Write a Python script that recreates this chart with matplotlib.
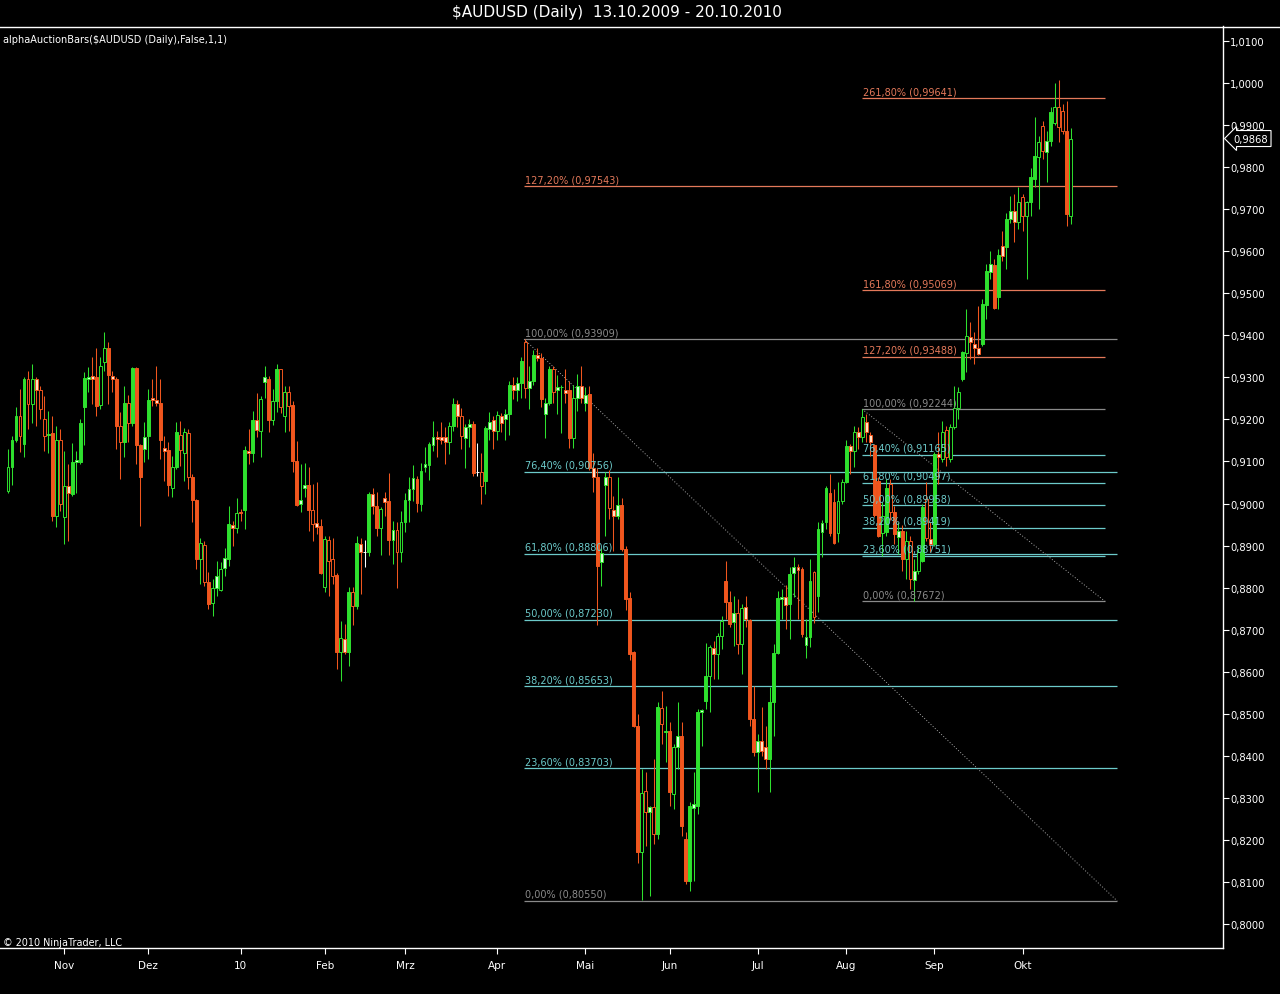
"""
AUDUSD daily candles (NinjaTrader look) with two Fibonacci retracement drawings.
"""

import numpy as np
import pandas as pd
import matplotlib
matplotlib.use("Agg")
import matplotlib.pyplot as plt
from matplotlib.lines import Line2D
from matplotlib.ticker import FuncFormatter
from matplotlib.transforms import blended_transform_factory

# ── Data ──────────────────────────────────────────────────────────────────
dates = pd.bdate_range("2009-10-13", "2010-10-19")

opens = [
    0.9030, 0.9088, 0.9150, 0.9207, 0.9142, 0.9295, 0.9237, 0.9295, 0.9270, 0.9202,
    0.9163, 0.9168, 0.8971, 0.9151, 0.8967, 0.9041, 0.9023, 0.9098, 0.9099, 0.9229,
    0.9296, 0.9304, 0.9300, 0.9234, 0.9337, 0.9370, 0.9304, 0.9296, 0.9185, 0.9147,
    0.9239, 0.9191, 0.9322, 0.9138, 0.9130, 0.9160, 0.9250, 0.9247, 0.9240, 0.9132,
    0.9128, 0.9038, 0.9086, 0.9164, 0.9119, 0.9167, 0.9062, 0.9008, 0.8868, 0.8901,
    0.8814, 0.8763, 0.8798, 0.8795, 0.8846, 0.8868, 0.8949, 0.8942, 0.8980, 0.8985,
    0.9126, 0.9119, 0.9198, 0.9173, 0.9290, 0.9296, 0.9198, 0.9244, 0.9320, 0.9209,
    0.9266, 0.9234, 0.9102, 0.8999, 0.9036, 0.9044, 0.8985, 0.8953, 0.8946, 0.8801,
    0.8914, 0.8868, 0.8829, 0.8646, 0.8678, 0.8647, 0.8789, 0.8756, 0.8904, 0.8885,
    0.8885, 0.9023, 0.8995, 0.8941, 0.9012, 0.9007, 0.8914, 0.8937, 0.8884, 0.8957,
    0.9008, 0.9034, 0.9058, 0.9000, 0.9088, 0.9092, 0.9139, 0.9157, 0.9157, 0.9157,
    0.9147, 0.9185, 0.9237, 0.9207, 0.9155, 0.9181, 0.9189, 0.9074, 0.9076, 0.9054,
    0.9177, 0.9199, 0.9173, 0.9207, 0.9201, 0.9213, 0.9281, 0.9270, 0.9287, 0.9384,
    0.9274, 0.9292, 0.9353, 0.9346, 0.9214, 0.9239, 0.9320, 0.9270, 0.9276, 0.9270,
    0.9270, 0.9155, 0.9252, 0.9279, 0.9239, 0.9261, 0.9085, 0.9063, 0.8861, 0.9045,
    0.9063, 0.8985, 0.8970, 0.8997, 0.8891, 0.8776, 0.8646, 0.8471, 0.8172, 0.8316,
    0.8266, 0.8278, 0.8215, 0.8513, 0.8456, 0.8460, 0.8310, 0.8421, 0.8448, 0.8202,
    0.8103, 0.8275, 0.8280, 0.8505, 0.8530, 0.8589, 0.8656, 0.8642, 0.8686, 0.8816,
    0.8765, 0.8718, 0.8740, 0.8666, 0.8753, 0.8722, 0.8488, 0.8408, 0.8436, 0.8420,
    0.8392, 0.8527, 0.8645, 0.8774, 0.8777, 0.8761, 0.8834, 0.8848, 0.8845, 0.8664,
    0.8682, 0.8838, 0.8781, 0.8933, 0.8956, 0.9026, 0.9003, 0.8930, 0.9005, 0.9052,
    0.9136, 0.9126, 0.9170, 0.9158, 0.9193, 0.9162, 0.9138, 0.9054, 0.8930, 0.8932,
    0.9046, 0.8979, 0.8920, 0.8935, 0.8868, 0.8912, 0.8817, 0.8840, 0.8864, 0.9011,
    0.8915, 0.8904, 0.9118, 0.9106, 0.9174, 0.9106, 0.9181, 0.9228, 0.9296, 0.9358,
    0.9395, 0.9379, 0.9369, 0.9379, 0.9471, 0.9551, 0.9567, 0.9490, 0.9613, 0.9609,
    0.9676, 0.9696, 0.9670, 0.9728, 0.9684, 0.9718, 0.9772, 0.9825, 0.9897, 0.9837,
    0.9863, 0.9906, 0.9942, 0.9933, 0.9887, 0.9684,
]
highs = [
    0.9130, 0.9160, 0.9229, 0.9272, 0.9300, 0.9316, 0.9332, 0.9300, 0.9280, 0.9256,
    0.9221, 0.9207, 0.9185, 0.9177, 0.9125, 0.9094, 0.9145, 0.9125, 0.9200, 0.9312,
    0.9324, 0.9348, 0.9371, 0.9348, 0.9407, 0.9383, 0.9316, 0.9300, 0.9217, 0.9279,
    0.9259, 0.9325, 0.9325, 0.9142, 0.9193, 0.9272, 0.9296, 0.9328, 0.9296, 0.9161,
    0.9146, 0.9114, 0.9193, 0.9197, 0.9179, 0.9177, 0.9070, 0.9010, 0.8917, 0.8911,
    0.8836, 0.8820, 0.8864, 0.8860, 0.8893, 0.8995, 0.8959, 0.9013, 0.8986, 0.9137,
    0.9177, 0.9221, 0.9262, 0.9256, 0.9326, 0.9304, 0.9272, 0.9332, 0.9321, 0.9280,
    0.9280, 0.9244, 0.9149, 0.9094, 0.9096, 0.9086, 0.9046, 0.9050, 0.8963, 0.8923,
    0.8923, 0.8919, 0.8835, 0.8721, 0.8713, 0.8801, 0.8801, 0.8923, 0.8917, 0.8914,
    0.9027, 0.9038, 0.9027, 0.8992, 0.9027, 0.9073, 0.8959, 0.8957, 0.8983, 0.9025,
    0.9062, 0.9092, 0.9066, 0.9096, 0.9134, 0.9147, 0.9197, 0.9173, 0.9194, 0.9181,
    0.9193, 0.9252, 0.9247, 0.9226, 0.9189, 0.9201, 0.9197, 0.9144, 0.9120, 0.9184,
    0.9217, 0.9207, 0.9221, 0.9216, 0.9225, 0.9292, 0.9301, 0.9301, 0.9349, 0.9391,
    0.9327, 0.9364, 0.9370, 0.9358, 0.9252, 0.9327, 0.9327, 0.9305, 0.9283, 0.9320,
    0.9292, 0.9283, 0.9309, 0.9327, 0.9276, 0.9279, 0.9119, 0.9085, 0.8895, 0.9076,
    0.9080, 0.9019, 0.9063, 0.9014, 0.8899, 0.8790, 0.8649, 0.8499, 0.8369, 0.8361,
    0.8281, 0.8392, 0.8529, 0.8555, 0.8519, 0.8480, 0.8428, 0.8527, 0.8481, 0.8218,
    0.8289, 0.8361, 0.8511, 0.8511, 0.8668, 0.8664, 0.8673, 0.8692, 0.8732, 0.8864,
    0.8793, 0.8781, 0.8773, 0.8761, 0.8781, 0.8726, 0.8567, 0.8452, 0.8515, 0.8472,
    0.8563, 0.8666, 0.8793, 0.8797, 0.8805, 0.8848, 0.8872, 0.8856, 0.8849, 0.8725,
    0.8868, 0.8840, 0.8955, 0.8960, 0.9042, 0.9070, 0.9034, 0.9050, 0.9058, 0.9150,
    0.9142, 0.9185, 0.9181, 0.9225, 0.9213, 0.9170, 0.9142, 0.9062, 0.9003, 0.9058,
    0.9058, 0.8995, 0.8955, 0.8950, 0.8935, 0.8923, 0.8868, 0.8900, 0.8999, 0.9050,
    0.8955, 0.9122, 0.9170, 0.9197, 0.9185, 0.9189, 0.9280, 0.9276, 0.9363, 0.9463,
    0.9431, 0.9407, 0.9470, 0.9486, 0.9569, 0.9601, 0.9581, 0.9605, 0.9649, 0.9692,
    0.9732, 0.9736, 0.9752, 0.9736, 0.9720, 0.9797, 0.9918, 0.9875, 0.9909, 0.9887,
    0.9942, 1.0000, 1.0006, 0.9950, 0.9958, 0.9892,
]
lows = [
    0.9025, 0.9045, 0.9146, 0.9122, 0.9111, 0.9177, 0.9191, 0.9185, 0.9200, 0.9125,
    0.9120, 0.8959, 0.8943, 0.8983, 0.8904, 0.8912, 0.9019, 0.9024, 0.9095, 0.9138,
    0.9264, 0.9237, 0.9209, 0.9225, 0.9316, 0.9237, 0.9264, 0.9130, 0.9058, 0.9111,
    0.9147, 0.9185, 0.9094, 0.8947, 0.9098, 0.9106, 0.9233, 0.9233, 0.9106, 0.9054,
    0.9019, 0.9015, 0.9082, 0.9090, 0.9054, 0.9034, 0.8955, 0.8844, 0.8808, 0.8804,
    0.8749, 0.8733, 0.8780, 0.8792, 0.8827, 0.8852, 0.8900, 0.8931, 0.8959, 0.8939,
    0.9094, 0.9098, 0.9157, 0.9110, 0.9250, 0.9169, 0.9186, 0.9217, 0.9215, 0.9171,
    0.9173, 0.9074, 0.8995, 0.8979, 0.9015, 0.8935, 0.8912, 0.8927, 0.8833, 0.8789,
    0.8781, 0.8809, 0.8606, 0.8579, 0.8642, 0.8614, 0.8710, 0.8750, 0.8785, 0.8848,
    0.8876, 0.8975, 0.8923, 0.8877, 0.8971, 0.8877, 0.8856, 0.8800, 0.8862, 0.8933,
    0.8955, 0.9007, 0.8979, 0.8983, 0.9076, 0.9057, 0.9126, 0.9110, 0.9142, 0.9094,
    0.9118, 0.9173, 0.9181, 0.9130, 0.9084, 0.9134, 0.9066, 0.9065, 0.8999, 0.9023,
    0.9150, 0.9130, 0.9150, 0.9171, 0.9151, 0.9164, 0.9248, 0.9243, 0.9252, 0.9252,
    0.9225, 0.9283, 0.9340, 0.9230, 0.9155, 0.9234, 0.9239, 0.9212, 0.9168, 0.9240,
    0.9133, 0.9133, 0.9221, 0.9239, 0.9221, 0.9080, 0.9028, 0.8710, 0.8803, 0.8922,
    0.8962, 0.8887, 0.8962, 0.8887, 0.8746, 0.8627, 0.8468, 0.8146, 0.8056, 0.8186,
    0.8067, 0.8191, 0.8203, 0.8428, 0.8385, 0.8281, 0.8274, 0.8368, 0.8210, 0.8095,
    0.8079, 0.8103, 0.8262, 0.8424, 0.8511, 0.8505, 0.8583, 0.8583, 0.8654, 0.8725,
    0.8706, 0.8662, 0.8642, 0.8595, 0.8706, 0.8472, 0.8400, 0.8313, 0.8400, 0.8368,
    0.8313, 0.8448, 0.8642, 0.8726, 0.8702, 0.8678, 0.8777, 0.8726, 0.8682, 0.8633,
    0.8658, 0.8717, 0.8741, 0.8872, 0.8939, 0.8923, 0.8904, 0.8908, 0.8999, 0.9049,
    0.9071, 0.9087, 0.9130, 0.9146, 0.9146, 0.9114, 0.8967, 0.8920, 0.8875, 0.8923,
    0.8960, 0.8904, 0.8880, 0.8840, 0.8820, 0.8797, 0.8767, 0.8832, 0.8860, 0.8911,
    0.8884, 0.8900, 0.9046, 0.9098, 0.9090, 0.9098, 0.9177, 0.9201, 0.9292, 0.9312,
    0.9344, 0.9332, 0.9352, 0.9375, 0.9439, 0.9533, 0.9462, 0.9462, 0.9577, 0.9557,
    0.9668, 0.9621, 0.9652, 0.9648, 0.9534, 0.9684, 0.9752, 0.9700, 0.9819, 0.9764,
    0.9851, 0.9899, 0.9859, 0.9879, 0.9660, 0.9664,
]
closes = [
    0.9086, 0.9150, 0.9207, 0.9161, 0.9295, 0.9237, 0.9295, 0.9270, 0.9225, 0.9161,
    0.9165, 0.8971, 0.9151, 0.9000, 0.9042, 0.9024, 0.9098, 0.9103, 0.9191, 0.9298,
    0.9302, 0.9296, 0.9233, 0.9326, 0.9371, 0.9306, 0.9296, 0.9185, 0.9146, 0.9239,
    0.9191, 0.9322, 0.9138, 0.9062, 0.9159, 0.9247, 0.9247, 0.9239, 0.9150, 0.9126,
    0.9045, 0.9086, 0.9169, 0.9127, 0.9169, 0.9062, 0.9008, 0.8868, 0.8906, 0.8814,
    0.8761, 0.8798, 0.8828, 0.8844, 0.8870, 0.8951, 0.8942, 0.8977, 0.8977, 0.9127,
    0.9119, 0.9198, 0.9175, 0.9248, 0.9300, 0.9198, 0.9244, 0.9320, 0.9229, 0.9266,
    0.9231, 0.9102, 0.8997, 0.9008, 0.9044, 0.8985, 0.8951, 0.8943, 0.8835, 0.8915,
    0.8864, 0.8828, 0.8646, 0.8679, 0.8647, 0.8789, 0.8756, 0.8906, 0.8885, 0.8885,
    0.9023, 0.8995, 0.8941, 0.8987, 0.9004, 0.8914, 0.8937, 0.8884, 0.8957, 0.9008,
    0.9034, 0.9060, 0.9001, 0.9077, 0.9094, 0.9142, 0.9157, 0.9153, 0.9152, 0.9147,
    0.9185, 0.9237, 0.9207, 0.9160, 0.9183, 0.9189, 0.9073, 0.9074, 0.9041, 0.9179,
    0.9195, 0.9173, 0.9211, 0.9192, 0.9213, 0.9283, 0.9270, 0.9287, 0.9340, 0.9274,
    0.9292, 0.9353, 0.9346, 0.9249, 0.9239, 0.9320, 0.9265, 0.9276, 0.9277, 0.9262,
    0.9155, 0.9252, 0.9279, 0.9252, 0.9258, 0.9085, 0.9063, 0.8851, 0.8882, 0.9063,
    0.8989, 0.8970, 0.8997, 0.8891, 0.8774, 0.8642, 0.8472, 0.8172, 0.8312, 0.8266,
    0.8278, 0.8215, 0.8515, 0.8476, 0.8460, 0.8313, 0.8421, 0.8447, 0.8232, 0.8103,
    0.8281, 0.8285, 0.8505, 0.8509, 0.8589, 0.8658, 0.8642, 0.8686, 0.8721, 0.8765,
    0.8714, 0.8740, 0.8666, 0.8751, 0.8726, 0.8488, 0.8408, 0.8436, 0.8412, 0.8392,
    0.8527, 0.8645, 0.8775, 0.8777, 0.8759, 0.8832, 0.8848, 0.8843, 0.8690, 0.8682,
    0.8816, 0.8729, 0.8939, 0.8954, 0.9038, 0.8930, 0.8906, 0.9007, 0.9052, 0.9136,
    0.9126, 0.9170, 0.9158, 0.9205, 0.9170, 0.9146, 0.8973, 0.8923, 0.8971, 0.9038,
    0.8979, 0.8927, 0.8935, 0.8868, 0.8912, 0.8820, 0.8840, 0.8884, 0.8991, 0.8919,
    0.8904, 0.9118, 0.9110, 0.9170, 0.9110, 0.9182, 0.9228, 0.9264, 0.9360, 0.9399,
    0.9383, 0.9369, 0.9356, 0.9474, 0.9553, 0.9569, 0.9466, 0.9591, 0.9589, 0.9676,
    0.9696, 0.9670, 0.9718, 0.9684, 0.9718, 0.9776, 0.9827, 0.9859, 0.9839, 0.9863,
    0.9930, 0.9942, 0.9895, 0.9887, 0.9688, 0.9868,
]

month_labels = ["Nov", "Dez", "10", "Feb", "Mrz", "Apr", "Mai", "Jun",
                "Jul", "Aug", "Sep", "Okt"]

fib_ratios = [0.0, 0.236, 0.382, 0.5, 0.618, 0.764, 1.0, 1.272, 1.618, 2.618]
# two drawings: (price at 100%, price at 0%)
fib_big = (0.93909, 0.80550)
fib_small = (0.92244, 0.87672)
last_price = 0.9868

# ── Colours ────────────────────────────────────────────────────────────────
BG = "#000000"
UP = "#2ee02e"
DOWN = "#f0561e"
UP_PALE = "#d6ffd6"
DOWN_PALE = "#ffe2c8"
DOJI = "#ffffff"
FIB_RET = "#6ccaca"
FIB_EXT = "#e4795a"
FIB_END = "#8a8a8a"
DIAG = "#a8a8a8"

o = np.array(opens)
h = np.array(highs)
l = np.array(lows)
c = np.array(closes)
x = np.arange(len(c))

# ── Figure / axes ──────────────────────────────────────────────────────────
W, H = 1280, 995
fig = plt.figure(figsize=(W / 100, H / 100), dpi=100)
fig.patch.set_facecolor(BG)
ax = fig.add_axes([0, 46 / H, 1223 / W, 922 / H])
ax.set_facecolor(BG)

# ── Candles ────────────────────────────────────────────────────────────────
edge, face = [], []
for i in range(len(c)):
    body = abs(c[i] - o[i])
    if body < 0.00005:
        edge.append(DOJI)
        face.append(DOJI)
        continue
    col = UP if c[i] > o[i] else DOWN
    pale = UP_PALE if c[i] > o[i] else DOWN_PALE
    breakout = i > 0 and (c[i] > h[i - 1] or c[i] < l[i - 1])
    edge.append(col)
    if breakout and body >= 0.0050:
        face.append(col)
    elif body < 0.0032:
        face.append(pale)
    else:
        face.append(BG)

ax.vlines(x, l, h, colors=edge, linewidth=0.75, zorder=2)
bottoms = np.minimum(o, c)
heights = np.maximum(np.abs(c - o), 0.00004)
ax.bar(x, heights, bottom=bottoms, width=0.72, color=face, edgecolor=edge,
       linewidth=0.7, zorder=3)

# ── Fibonacci drawings ─────────────────────────────────────────────────────
y_lo, y_hi = 0.79429, 1.01356


def fib_label(r, price):
    pct = f"{r * 100:.2f}%".replace(".", ",")
    val = f"{price + 1e-9:.5f}".replace(".", ",")
    return f"{pct} ({val})"


def draw_fib(top, bottom, x0, x1):
    rng = top - bottom
    for r in fib_ratios:
        price = bottom + r * rng
        if price > y_hi:
            continue
        if r in (0.0, 1.0):
            col = FIB_END
        elif r > 1.0:
            col = FIB_EXT
        else:
            col = FIB_RET
        ax.hlines(price, x0, x1, colors=col, linewidth=0.9, zorder=1)
        ax.annotate(fib_label(r, price), (x0, price), xytext=(1, 1.5),
                    textcoords="offset points", fontsize=7, color=col,
                    ha="left", va="bottom", zorder=5)
    ax.plot([x0, x1], [top, bottom], color=DIAG, linewidth=0.7,
            linestyle=(0, (1, 2)), zorder=1)


draw_fib(fib_big[0], fib_big[1], 128.7, 276.6)
draw_fib(fib_small[0], fib_small[1], 213.0, 273.6)

# ── Axes styling ───────────────────────────────────────────────────────────
ax.set_xlim(-1.995, 303.0)
ax.set_ylim(y_lo, y_hi)

for side in ("left", "top"):
    ax.spines[side].set_visible(False)
for side in ("right", "bottom"):
    ax.spines[side].set_color("white")
    ax.spines[side].set_linewidth(1.0)

ax.yaxis.tick_right()
ax.set_yticks(np.arange(0.80, 1.0101, 0.01))
ax.yaxis.set_major_formatter(FuncFormatter(lambda v, _: f"{v:.4f}".replace(".", ",")))
ax.tick_params(axis="y", colors="white", labelsize=7.2, length=4, width=0.8, pad=1)

months = pd.Series(dates.month)
month_starts = list(np.where(months.values[1:] != months.values[:-1])[0] + 1)
ax.set_xticks(month_starts)
ax.set_xticklabels(month_labels[:len(month_starts)])
ax.tick_params(axis="x", colors="white", labelsize=7.5, length=4, width=0.8, pad=5)

# current price marker
tr = blended_transform_factory(ax.transAxes, ax.transData)
ax.text(1.0085, last_price, f"{last_price:.4f}".replace(".", ","), transform=tr,
        fontsize=7.2, color="white", ha="left", va="center", clip_on=False,
        bbox=dict(boxstyle="larrow,pad=0.3", fc=BG, ec="white", lw=0.8))

# ── Frame texts ────────────────────────────────────────────────────────────
fig.add_artist(Line2D([0, 1], [1 - 27.5 / H] * 2, color="white", linewidth=1.0))
fig.text(617 / W, 1 - 13 / H, "$AUDUSD (Daily)  13.10.2009 - 20.10.2010",
         color="white", fontsize=11, ha="center", va="center")
fig.text(3 / W, 1 - 40 / H, "alphaAuctionBars($AUDUSD (Daily),False,1,1)",
         color="white", fontsize=7, ha="left", va="center")
fig.text(3 / W, 1 - 943 / H, "© 2010 NinjaTrader, LLC",
         color="white", fontsize=6.9, ha="left", va="center")

fig.savefig("out.png", dpi=100, facecolor=fig.get_facecolor())
plt.close(fig)
